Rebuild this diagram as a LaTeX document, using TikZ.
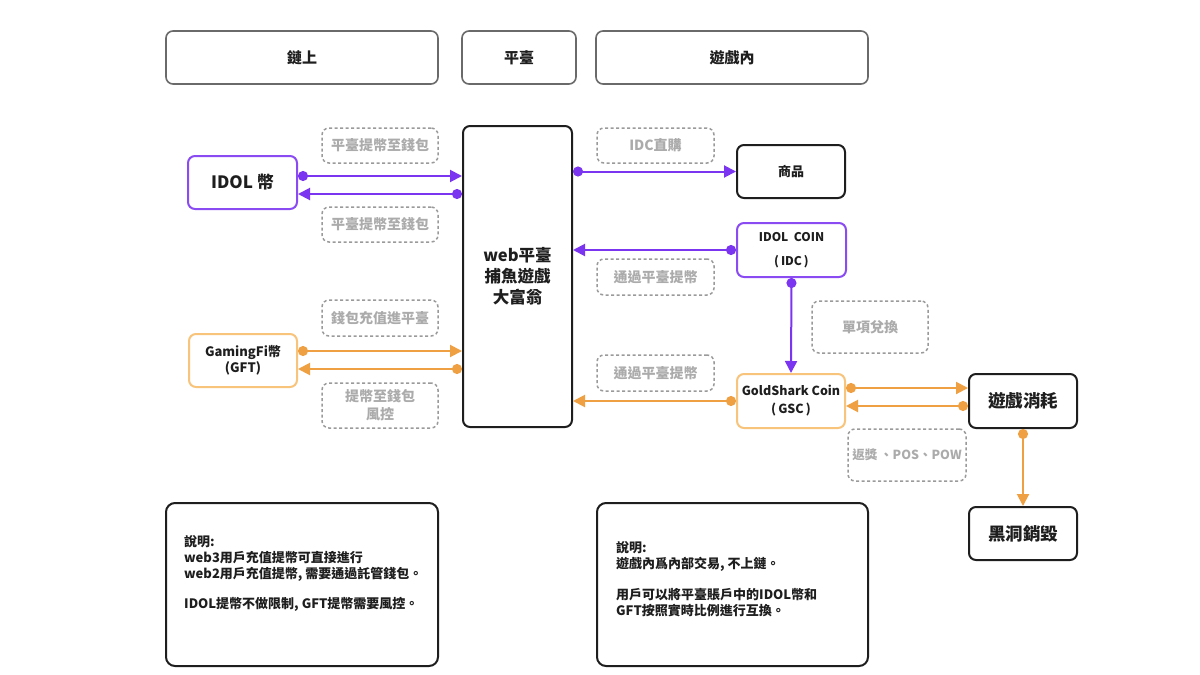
\documentclass[tikz,border=0pt]{standalone}
\usepackage{fontspec}
\setmainfont{Noto Sans CJK TC}
\usetikzlibrary{arrows.meta}
\definecolor{purp}{HTML}{7B34F0}
\definecolor{purpbox}{HTML}{8A4CF2}
\definecolor{orng}{HTML}{EFA043}
\definecolor{orngbox}{HTML}{F8C47C}
\definecolor{lblgray}{HTML}{ABABAB}
\definecolor{dashgray}{HTML}{9A9A9A}
\definecolor{topgray}{HTML}{6A6A6A}
\definecolor{ink}{HTML}{1E1E1E}
\tikzset{
  box/.style={rounded corners=7pt, inner sep=0pt, align=center, font=\bfseries, text=ink},
  topbox/.style={box, draw=topgray, line width=1.6pt, font=\bfseries\fontsize{15}{18}\selectfont},
  blackbox/.style={box, draw=ink, line width=2pt},
  purpbx/.style={box, draw=purpbox, line width=2pt},
  orngbx/.style={box, draw=orngbox, line width=2pt},
  lbl/.style={rounded corners=7pt, inner sep=0pt, align=center, draw=dashgray, dashed, dash pattern=on 3pt off 2.5pt, line width=1.5pt, text=lblgray, font=\bfseries\fontsize{14}{19}\selectfont},
  notebox/.style={rounded corners=9pt, draw=ink, line width=2pt, inner sep=0pt},
  notetext/.style={anchor=north west, align=left, inner sep=0pt, text=ink, font=\bfseries\fontsize{13}{16}\selectfont},
  pa/.style={draw=purp, line width=2pt, {Circle[length=10pt]}-{Triangle[length=12pt,width=12pt]}},
  oa/.style={draw=orng, line width=2pt, {Circle[length=10pt]}-{Triangle[length=12pt,width=12pt]}},
}
\begin{document}
\begin{tikzpicture}[x=1pt,y=-1pt]
\useasboundingbox[fill=white] (0,0) rectangle (1200,675);
% top headers
\node[topbox, minimum width=272pt, minimum height=53pt] (t1) at (302,57.5) {鏈上};
\node[topbox, minimum width=114pt, minimum height=53pt] (t2) at (519,57.5) {平臺};
\node[topbox, minimum width=272pt, minimum height=53pt] (t3) at (732,57.5) {遊戲內};
% left side
\node[lbl, minimum width=116pt, minimum height=35pt] (l1) at (380,145.5) {平臺提幣至錢包};
\node[purpbx, minimum width=109pt, minimum height=53pt, font=\bfseries\fontsize{17}{20}\selectfont] (idol) at (242.5,182.5) {IDOL 幣};
\node[lbl, minimum width=116pt, minimum height=35pt] (l2) at (380,224.5) {平臺提幣至錢包};
\node[lbl, minimum width=116pt, minimum height=36pt] (l3) at (380,318) {錢包充值進平臺};
\node[orngbx, minimum width=108pt, minimum height=53pt, font=\bfseries\fontsize{13}{16}\selectfont] (gft) at (243,360.5) {GamingFi幣\\(GFT)};
\node[lbl, minimum width=116pt, minimum height=45pt, font=\bfseries\fontsize{14}{18}\selectfont] (l4) at (380,405.5) {提幣至錢包\\風控};
% platform
\node[blackbox, minimum width=109pt, minimum height=301pt, font=\bfseries\fontsize{16.5}{21}\selectfont] (web) at (517.5,276.5) {web平臺\\捕魚遊戲\\大富翁};
% right side
\node[lbl, minimum width=117pt, minimum height=35pt] (l5) at (655.5,145.5) {IDC直購};
\node[blackbox, minimum width=108pt, minimum height=53pt, font=\bfseries\fontsize{13}{16}\selectfont] (goods) at (791,171.5) {商品};
\node[purpbx, minimum width=109pt, minimum height=54pt, font=\bfseries\fontsize{12}{24}\selectfont] (idc) at (791.5,250) {IDOL\ \ COIN\\(\,IDC\,)};
\node[lbl, minimum width=117pt, minimum height=36pt] (l6) at (655.5,277) {通過平臺提幣};
\node[lbl, minimum width=116pt, minimum height=52pt] (l7) at (870,327) {單項兌換};
\node[lbl, minimum width=117pt, minimum height=36pt] (l8) at (655.5,373) {通過平臺提幣};
\node[orngbx, minimum width=108pt, minimum height=54pt, font=\bfseries\fontsize{12.5}{18}\selectfont] (gsc) at (791,401) {GoldShark Coin\\(\,GSC\,)};
\node[blackbox, minimum width=108pt, minimum height=54pt, font=\bfseries\fontsize{17.5}{20}\selectfont] (game) at (1023,401) {遊戲消耗};
\node[lbl, minimum width=118pt, minimum height=52pt, font=\bfseries\fontsize{12.5}{16}\selectfont] (l9) at (907,455) {返獎 、POS、POW};
\node[blackbox, minimum width=108pt, minimum height=53pt, font=\bfseries\fontsize{17.5}{20}\selectfont] (hole) at (1023,533.5) {黑洞銷毀};
% notes
\node[notebox, minimum width=272pt, minimum height=163pt] (n1) at (302,584.5) {};
\node[notetext] (n1t) at (184,535) {說明:\\web3用戶充值提幣可直接進行\\web2用戶充值提幣, 需要通過託管錢包。\\[14pt]IDOL提幣不做限制, GFT提幣需要風控。};
\node[notebox, minimum width=271pt, minimum height=163pt] (n2) at (732.5,584.5) {};
\node[notetext, font=\bfseries\fontsize{13}{16.5}\selectfont] (n2t) at (616,541) {說明:\\遊戲內爲內部交易, 不上鏈。\\[14pt]用戶可以將平臺賬戶中的IDOL幣和\\GFT按照實時比例進行互換。};
% connectors
\draw[pa] ([yshift=6.5pt]idol.east) -- ([yshift=6.5pt]idol.east -| web.west);
\draw[pa] ([yshift=-11.5pt]idol.east -| web.west) -- ([yshift=-11.5pt]idol.east);
\draw[oa] ([yshift=9.5pt]gft.east) -- ([yshift=9.5pt]gft.east -| web.west);
\draw[oa] ([yshift=-8.5pt]gft.east -| web.west) -- ([yshift=-8.5pt]gft.east);
\draw[pa] (goods.west -| web.east) -- (goods.west);
\draw[pa] (idc.west) -- (idc.west -| web.east);
\draw[pa] (idc.south) -- (gsc.north);
\draw[oa] (gsc.west) -- (gsc.west -| web.east);
\draw[oa] ([yshift=13pt]gsc.east) -- ([yshift=13pt]gsc.east -| game.west);
\draw[oa] ([yshift=-5pt]game.west) -- ([yshift=-5pt]game.west -| gsc.east);
\draw[oa] (game.south) -- (hole.north);
\end{tikzpicture}
\end{document}
